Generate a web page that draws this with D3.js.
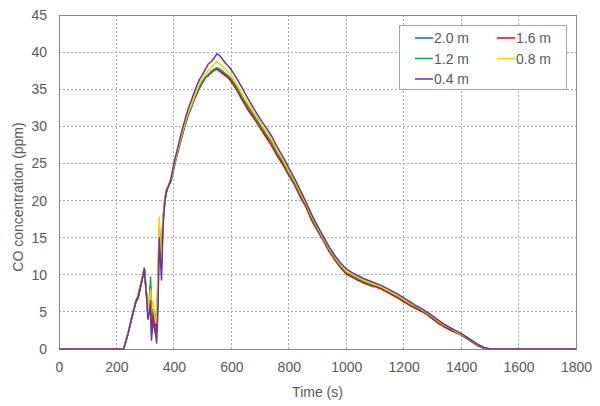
<!DOCTYPE html>
<html>
<head>
<meta charset="utf-8">
<script src="https://cdn.jsdelivr.net/npm/d3@7"></script>
<style>
  html, body { margin: 0; padding: 0; background: #ffffff; }
  svg { display: block; font-family: "Liberation Sans", "DejaVu Sans", sans-serif; }
</style>
</head>
<body>
<svg id="chart" width="600" height="406"></svg>
<script>
// ---- data ----
const times = [0,225,240,255,268,275,290,297,305,310,
  315,319,322,327,333,337,340,345,349,353,
  357,362,369,375,381,390,400,410,420,430,
  440,450,460,470,480,490,500,510,520,530,
  540,550,560,570,580,590,600,620,640,660,
  680,700,720,740,760,780,800,820,840,860,
  880,900,920,940,960,980,1000,1020,1040,1060,
  1080,1100,1120,1140,1160,1180,1200,1220,1240,1260,
  1280,1300,1320,1340,1360,1380,1400,1420,1440,1460,
  1480,1500,1520,1800];

const seriesNames = ["2.0 m", "1.6 m", "1.2 m", "0.8 m", "0.4 m"];
const seriesColors = ["#0070C0", "#FF0000", "#00B050", "#FFD000", "#7030A0"];

const co_2_0 = [0,0,2.0,4.4,6.3,6.8,9.4,10.8,7.2,4.2,
  5.5,7.5,2.0,4.5,3.0,2.5,2.2,7.5,16.0,12.5,
  11.0,17.0,20.5,21.2,22.0,22.6,24.3,26.0,27.4,29.0,
  30.2,31.6,32.4,33.6,34.3,35.3,35.9,36.6,36.8,37.3,
  37.5,37.8,37.5,37.3,36.9,36.7,36.2,35.1,33.6,32.5,
  31.2,30.1,28.8,27.8,26.2,25.0,23.5,22.4,20.6,19.3,
  17.4,16.0,14.8,13.2,12.2,11.0,10.2,9.8,9.3,9.0,
  8.7,8.5,8.2,7.9,7.3,6.9,6.4,6.1,5.5,5.2,
  4.7,4.1,3.5,3.1,2.6,2.3,1.9,1.5,1.0,0.5,
  0.1,0,0,0];
const co_1_6 = [0,0,2.0,4.5,6.4,6.9,9.5,10.9,7.0,4.4,
  6.0,8.5,3.0,5.0,3.8,3.2,2.8,9.0,16.5,13.0,
  12.0,17.5,20.2,21.5,21.9,22.8,24.6,26.2,27.6,28.9,
  30.4,31.5,32.6,33.5,34.5,35.2,36.0,36.5,36.9,37.2,
  37.6,37.7,37.4,37.1,36.8,36.5,36.0,34.8,33.4,32.1,
  31.0,29.8,28.6,27.4,26.0,24.8,23.4,22.1,20.5,19.1,
  17.3,15.9,14.6,13.2,12.0,11.0,10.1,9.7,9.3,8.9,
  8.6,8.4,8.1,7.7,7.3,6.9,6.4,5.9,5.5,5.1,
  4.7,4.1,3.5,3.0,2.6,2.2,1.9,1.4,0.9,0.4,
  0.1,0,0,0];
const co_1_2 = [0,0,2.1,4.5,6.5,7.2,9.6,10.9,7.3,4.6,
  7.0,9.7,4.0,5.5,5.0,4.0,4.5,10.0,16.5,13.5,
  12.5,17.8,20.0,21.4,22.0,22.7,24.5,26.1,27.6,29.1,
  30.3,31.7,32.5,33.6,34.5,35.4,36.1,36.6,37.0,37.4,
  37.7,37.9,37.7,37.4,37.1,36.8,36.4,35.2,33.8,32.6,
  31.4,30.2,29.0,27.9,26.4,25.2,23.7,22.4,20.8,19.4,
  17.6,16.1,14.8,13.4,12.2,11.2,10.3,9.9,9.5,9.1,
  8.8,8.6,8.3,7.9,7.5,7.1,6.6,6.1,5.7,5.3,
  4.8,4.3,3.7,3.2,2.8,2.3,2.0,1.5,1.0,0.5,
  0.1,0,0,0];
const co_0_8 = [0,0,2.1,4.6,6.6,7.4,9.6,10.9,7.5,4.8,
  6.5,8.0,5.0,6.5,4.5,3.5,4.0,11.0,17.8,14.0,
  12.0,17.5,20.3,21.6,22.2,22.9,24.7,26.3,27.8,29.3,
  30.6,31.9,32.8,33.9,34.9,35.8,36.5,37.1,37.5,37.9,
  38.3,38.7,38.4,38.1,37.7,37.3,36.9,35.6,34.3,33.0,
  31.8,30.6,29.4,28.2,26.8,25.5,24.0,22.7,21.1,19.6,
  17.9,16.4,15.0,13.6,12.4,11.4,10.5,10.1,9.7,9.3,
  9.0,8.7,8.4,8.0,7.6,7.2,6.7,6.2,5.8,5.4,
  4.9,4.4,3.8,3.3,2.9,2.4,2.0,1.6,1.1,0.6,
  0.2,0,0,0];
const co_0_4 = [0,0,2.0,4.5,6.5,7.0,9.5,10.8,7.0,4.0,
  5.0,6.5,1.2,4.0,2.5,1.8,0.8,6.0,15.0,12.0,
  9.3,16.5,20.0,21.5,21.9,23.0,25.0,26.6,28.2,29.7,
  31.1,32.4,33.4,34.5,35.5,36.4,37.0,37.7,38.4,38.7,
  39.2,39.8,39.5,39.0,38.5,38.1,37.6,36.4,35.0,33.6,
  32.3,31.0,29.9,28.7,27.2,25.9,24.4,23.0,21.4,19.8,
  18.1,16.6,15.2,13.8,12.6,11.6,10.8,10.3,9.9,9.5,
  9.2,8.9,8.6,8.2,7.8,7.4,6.9,6.4,5.9,5.5,
  5.0,4.5,3.9,3.4,2.9,2.5,2.1,1.6,1.1,0.6,
  0.2,0,0,0];
const seriesValues = [co_2_0, co_1_6, co_1_2, co_0_8, co_0_4];

const xTicks = [0,200,400,600,800,1000,1200,1400,1600,1800];
const yTicks = [0,5,10,15,20,25,30,35,40,45];
const xTitle = "Time (s)";
const yTitle = "CO concentration (ppm)";

// ---- layout ----
const svg = d3.select("#chart");
const margin = {left: 59, right: 24, top: 15, bottom: 57};
const W = 600, H = 406;
const x = d3.scaleLinear().domain([0, 1800]).range([margin.left, W - margin.right]);
const y = d3.scaleLinear().domain([0, 45]).range([H - margin.bottom, margin.top]);
const textColor = "#595959";

// gridlines
const grid = svg.append("g");
grid.selectAll("line.h").data(yTicks.filter(d => d > 0 && d < 45)).enter().append("line")
  .attr("x1", x(0)).attr("x2", x(1800))
  .attr("y1", d => y(d)).attr("y2", d => y(d))
  .attr("stroke", "#a6a6a6").attr("stroke-width", 1).attr("stroke-dasharray", "2,2")
  .attr("shape-rendering", "crispEdges");
grid.selectAll("line.v").data(xTicks.filter(d => d > 0 && d < 1800)).enter().append("line")
  .attr("y1", y(0)).attr("y2", y(45))
  .attr("x1", d => x(d)).attr("x2", d => x(d))
  .attr("stroke", "#a6a6a6").attr("stroke-width", 1).attr("stroke-dasharray", "2,2")
  .attr("shape-rendering", "crispEdges");

// frame
svg.append("rect")
  .attr("x", x(0)).attr("y", y(45))
  .attr("width", x(1800) - x(0)).attr("height", y(0) - y(45))
  .attr("fill", "none").attr("stroke", "#898989").attr("stroke-width", 1)
  .attr("shape-rendering", "crispEdges");

// axes
const xAxis = svg.append("g").attr("transform", `translate(0,${y(0)})`)
  .call(d3.axisBottom(x).tickValues(xTicks).tickSize(0).tickPadding(13).tickFormat(d3.format("d")));
const yAxis = svg.append("g").attr("transform", `translate(${x(0)},0)`)
  .call(d3.axisLeft(y).tickValues(yTicks).tickSize(0).tickPadding(12).tickFormat(d3.format("d")));
[xAxis, yAxis].forEach(a => {
  a.select(".domain").attr("stroke", "#898989");
  a.selectAll("text").attr("fill", textColor).attr("font-size", "14px")
    .attr("font-family", "'Liberation Sans', sans-serif");
});

// series
const line = d3.line().x((d, i) => x(times[i])).y(d => y(d));
seriesValues.forEach((vals, k) => {
  svg.append("path").datum(vals)
    .attr("d", line)
    .attr("fill", "none")
    .attr("stroke", seriesColors[k])
    .attr("stroke-width", 1.5)
    .attr("stroke-linejoin", "round");
});

// axis titles
svg.append("text").attr("x", (x(0) + x(1800)) / 2).attr("y", 397)
  .attr("text-anchor", "middle").attr("fill", textColor).attr("font-size", "14px")
  .text(xTitle);
svg.append("text").attr("transform", "translate(23,197) rotate(-90)")
  .attr("text-anchor", "middle").attr("fill", textColor).attr("font-size", "14px")
  .text(yTitle);

// legend
const lg = svg.append("g");
lg.append("rect").attr("x", 399.5).attr("y", 25.5).attr("width", 167).attr("height", 64)
  .attr("fill", "#ffffff").attr("stroke", "#a6a6a6").attr("stroke-width", 1);
const legPos = [[415, 38], [497, 38], [415, 58.5], [497, 58.5], [415, 79]];
seriesNames.forEach((name, k) => {
  const [lx, ly] = legPos[k];
  lg.append("line").attr("x1", lx).attr("x2", lx + 18).attr("y1", ly).attr("y2", ly)
    .attr("stroke", seriesColors[k]).attr("stroke-width", 1.5);
  lg.append("text").attr("x", lx + 19).attr("y", ly + 5)
    .attr("fill", textColor).attr("font-size", "14px").text(name);
});
</script>
</body>
</html>
